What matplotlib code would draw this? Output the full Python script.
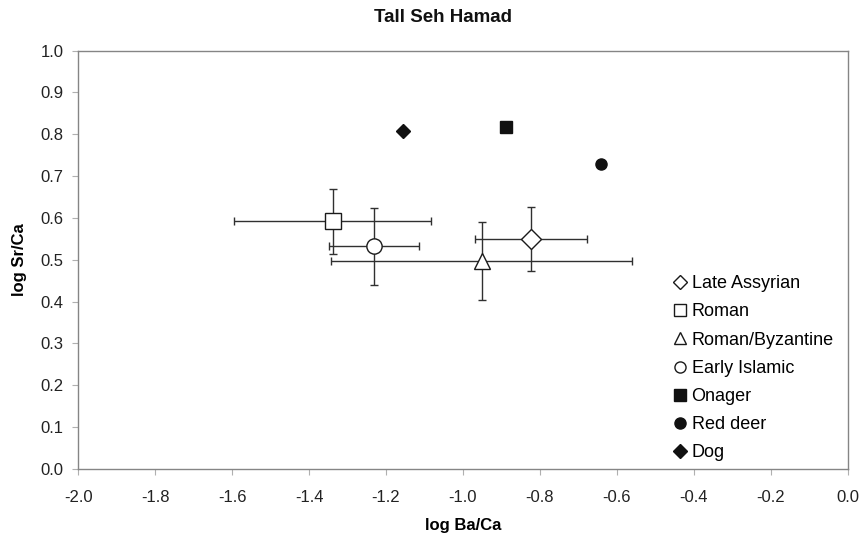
import matplotlib.pyplot as plt
from matplotlib.lines import Line2D

plt.rcParams['font.family'] = ['Liberation Sans', 'DejaVu Sans']

# archaeological periods: means with error bars (log Ba/Ca, log Sr/Ca)
periods = ["Late Assyrian", "Roman", "Roman/Byzantine", "Early Islamic"]
period_ba = [-0.823, -1.339, -0.951, -1.231]
period_sr = [0.550, 0.592, 0.497, 0.532]
period_ba_err = [0.146, 0.257, 0.391, 0.117]
period_sr_err = [0.077, 0.078, 0.094, 0.092]
period_markers = ["D", "s", "^", "o"]

# single animal reference samples
animals = ["Onager", "Red deer", "Dog"]
animal_ba = [-0.888, -0.640, -1.155]
animal_sr = [0.817, 0.728, 0.808]
animal_markers = ["s", "o", "D"]

fig = plt.figure(figsize=(8.64, 5.41), dpi=100)
ax = fig.add_axes([0.0906, 0.1336, 0.8905, 0.7727])

handles = []
for name, x, y, xe, ye, m in zip(periods, period_ba, period_sr,
                                 period_ba_err, period_sr_err, period_markers):
    ax.errorbar(x, y, xerr=xe, yerr=ye, fmt='none', ecolor='#303030',
                elinewidth=1.0, capsize=3, capthick=1.0, zorder=2)
    ms = 10 if m == "D" else 11
    ax.plot(x, y, marker=m, ms=ms, mfc='white', mec='#1a1a1a', mew=1.0,
            ls='none', zorder=3)
    handles.append(Line2D([], [], marker=m, ms=8 if m != "D" else 7,
                          mfc='white', mec='#1a1a1a', mew=1.0, ls='none',
                          label=name))

for name, x, y, m in zip(animals, animal_ba, animal_sr, animal_markers):
    ax.plot(x, y, marker=m, ms=8 if m != "D" else 7, color='#111111',
            ls='none', zorder=3)
    handles.append(Line2D([], [], marker=m, ms=8 if m != "D" else 7,
                          color='#111111', ls='none', label=name))

ax.set_xlim(-2.0, 0.0)
ax.set_ylim(0.0, 1.0)
ax.set_xticks([-2.0 + 0.2 * i for i in range(11)])
ax.set_yticks([0.1 * i for i in range(11)])
ax.xaxis.set_major_formatter(plt.FormatStrFormatter('%.1f'))
ax.yaxis.set_major_formatter(plt.FormatStrFormatter('%.1f'))

for s in ax.spines.values():
    s.set_color('#858585')
    s.set_linewidth(1.0)
ax.tick_params(direction='out', length=4.5, width=0.8, color='#b0b0b0',
               labelsize=12, labelcolor='#222222', pad=6)
ax.tick_params(axis='x', pad=11)

ax.set_xlabel("log Ba/Ca", fontsize=12, fontweight='bold', labelpad=9)
ax.set_ylabel("log Sr/Ca", fontsize=12, fontweight='bold', labelpad=10)
fig.text(0.513, 0.984, "Tall Seh Hamad", ha='center', va='top',
         fontsize=13.5, fontweight='bold', color='#111111')

ax.legend(handles=handles, loc='upper left', bbox_to_anchor=(0.763, 0.48),
          frameon=False, fontsize=13, handlelength=0.8, handletextpad=0.25,
          labelspacing=0.62, borderaxespad=0)

fig.savefig("out.png", dpi=100)
